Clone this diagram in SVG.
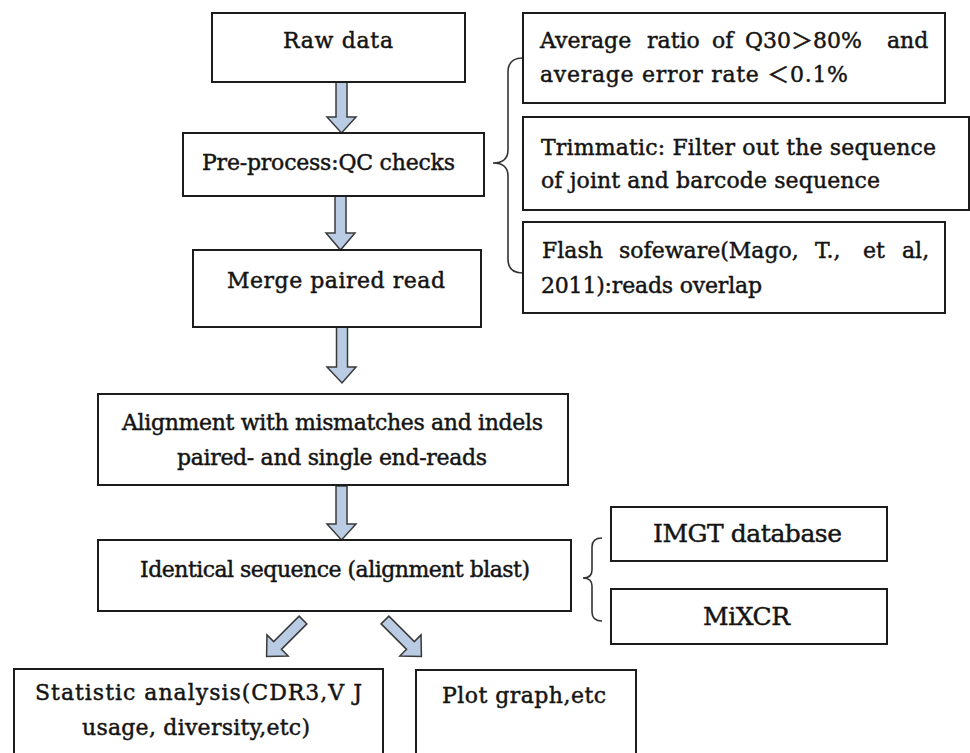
<svg xmlns="http://www.w3.org/2000/svg" width="970" height="753" viewBox="0 0 970 753">
<style>
.box{fill:#fff;stroke:#1c1c1c;stroke-width:2}
.t{font-family:"DejaVu Serif","Noto Sans CJK SC",serif;font-size:22px;fill:#141414;stroke:#141414;stroke-width:0.45px}
.big{font-size:25px}
.arr{fill:#b9cce3;stroke:#3a3a3a;stroke-width:1.5;stroke-linejoin:miter}
.brace{fill:none;stroke:#333;stroke-width:1.6}
</style>
<rect width="970" height="753" fill="#fff"/>
<g id="connectors">
<polygon class="arr" points="336,82 347,82 347,117 356,117 341.5,133 327,117 336,117"/>
<polygon class="arr" points="335,196 346,196 346,233 355,233 340.5,250 326,233 335,233"/>
<polygon class="arr" points="336.5,327 347.5,327 347.5,367 356,367 342,383 327,367 336.5,367"/>
<polygon class="arr" points="336,486 347,486 347,524 356,524 341.5,540 327,524 336,524"/>
<g transform="translate(303,620) rotate(45)">
<polygon class="arr" points="-5.5,0 5.5,0 5.5,36 15,36 0,51.5 -15,36 -5.5,36"/>
</g>
<g transform="translate(385,620) rotate(-45)">
<polygon class="arr" points="-5.5,0 5.5,0 5.5,36 15,36 0,51.5 -15,36 -5.5,36"/>
</g>
<path class="brace" d="M523,58 Q508,58 508,72 L508,150 Q508,163 493,163 Q508,163 508,176 L508,259 Q508,273 523,273"/>
<path class="brace" d="M602,538 Q592,538 592,547 L592,570 Q592,578 583,578 Q592,578 592,586 L592,612 Q592,621 602,621"/>
</g>
<g id="raw">
<rect class="box" x="212" y="13" width="253" height="69"/>
<text class="t" x="283" y="48" textLength="110">Raw data</text>
</g>
<g id="preprocess">
<rect class="box" x="183" y="133" width="301" height="63"/>
<text class="t" x="202" y="170" textLength="253">Pre-process:QC checks</text>
</g>
<g id="merge">
<rect class="box" x="193" y="250" width="288" height="77"/>
<text class="t" x="227" y="288" textLength="218">Merge paired read</text>
</g>
<g id="q30">
<rect class="box" x="523" y="13" width="422" height="90"/>
<text class="t" y="48"><tspan x="540">Average</tspan><tspan x="647">ratio</tspan><tspan x="712">of</tspan><tspan x="745">Q30＞80%</tspan><tspan x="887">and</tspan></text>
<text class="t" x="540" y="82" textLength="308">average error rate ＜0.1%</text>
</g>
<g id="trimmatic">
<rect class="box" x="523" y="117" width="446" height="93"/>
<text class="t" x="541" y="155" textLength="395">Trimmatic: Filter out the sequence</text>
<text class="t" x="541" y="188" textLength="339">of joint and barcode sequence</text>
</g>
<g id="flash">
<rect class="box" x="523" y="222" width="422" height="91"/>
<text class="t" y="258"><tspan x="542">Flash</tspan><tspan x="619">sofeware(Mago,</tspan><tspan x="815">T.,</tspan><tspan x="863">et</tspan><tspan x="902">al,</tspan></text>
<text class="t" x="541" y="293" textLength="221">2011):reads overlap</text>
</g>
<g id="alignment">
<rect class="box" x="98" y="394" width="470" height="91"/>
<text class="t" x="122" y="430" textLength="421">Alignment with mismatches and indels</text>
<text class="t" x="177" y="465" textLength="310">paired- and single end-reads</text>
</g>
<g id="identical">
<rect class="box" x="98" y="540" width="473" height="71"/>
<text class="t" x="140" y="577" textLength="390">Identical sequence (alignment blast)</text>
</g>
<g id="imgt">
<rect class="box" x="611" y="507" width="276" height="54"/>
<text class="t big" x="653" y="542" textLength="189">IMGT database</text>
</g>
<g id="mixcr">
<rect class="box" x="611" y="589" width="276" height="55"/>
<text class="t big" x="703" y="625" textLength="87">MiXCR</text>
</g>
<g id="statistic">
<rect class="box" x="14" y="669" width="369" height="100"/>
<text class="t" x="35" y="700" textLength="327">Statistic analysis(CDR3,V J</text>
<text class="t" x="82" y="735" textLength="228">usage, diversity,etc)</text>
</g>
<g id="plot">
<rect class="box" x="416" y="670" width="220" height="100"/>
<text class="t" x="442" y="703" textLength="164">Plot graph,etc</text>
</g>
</svg>
